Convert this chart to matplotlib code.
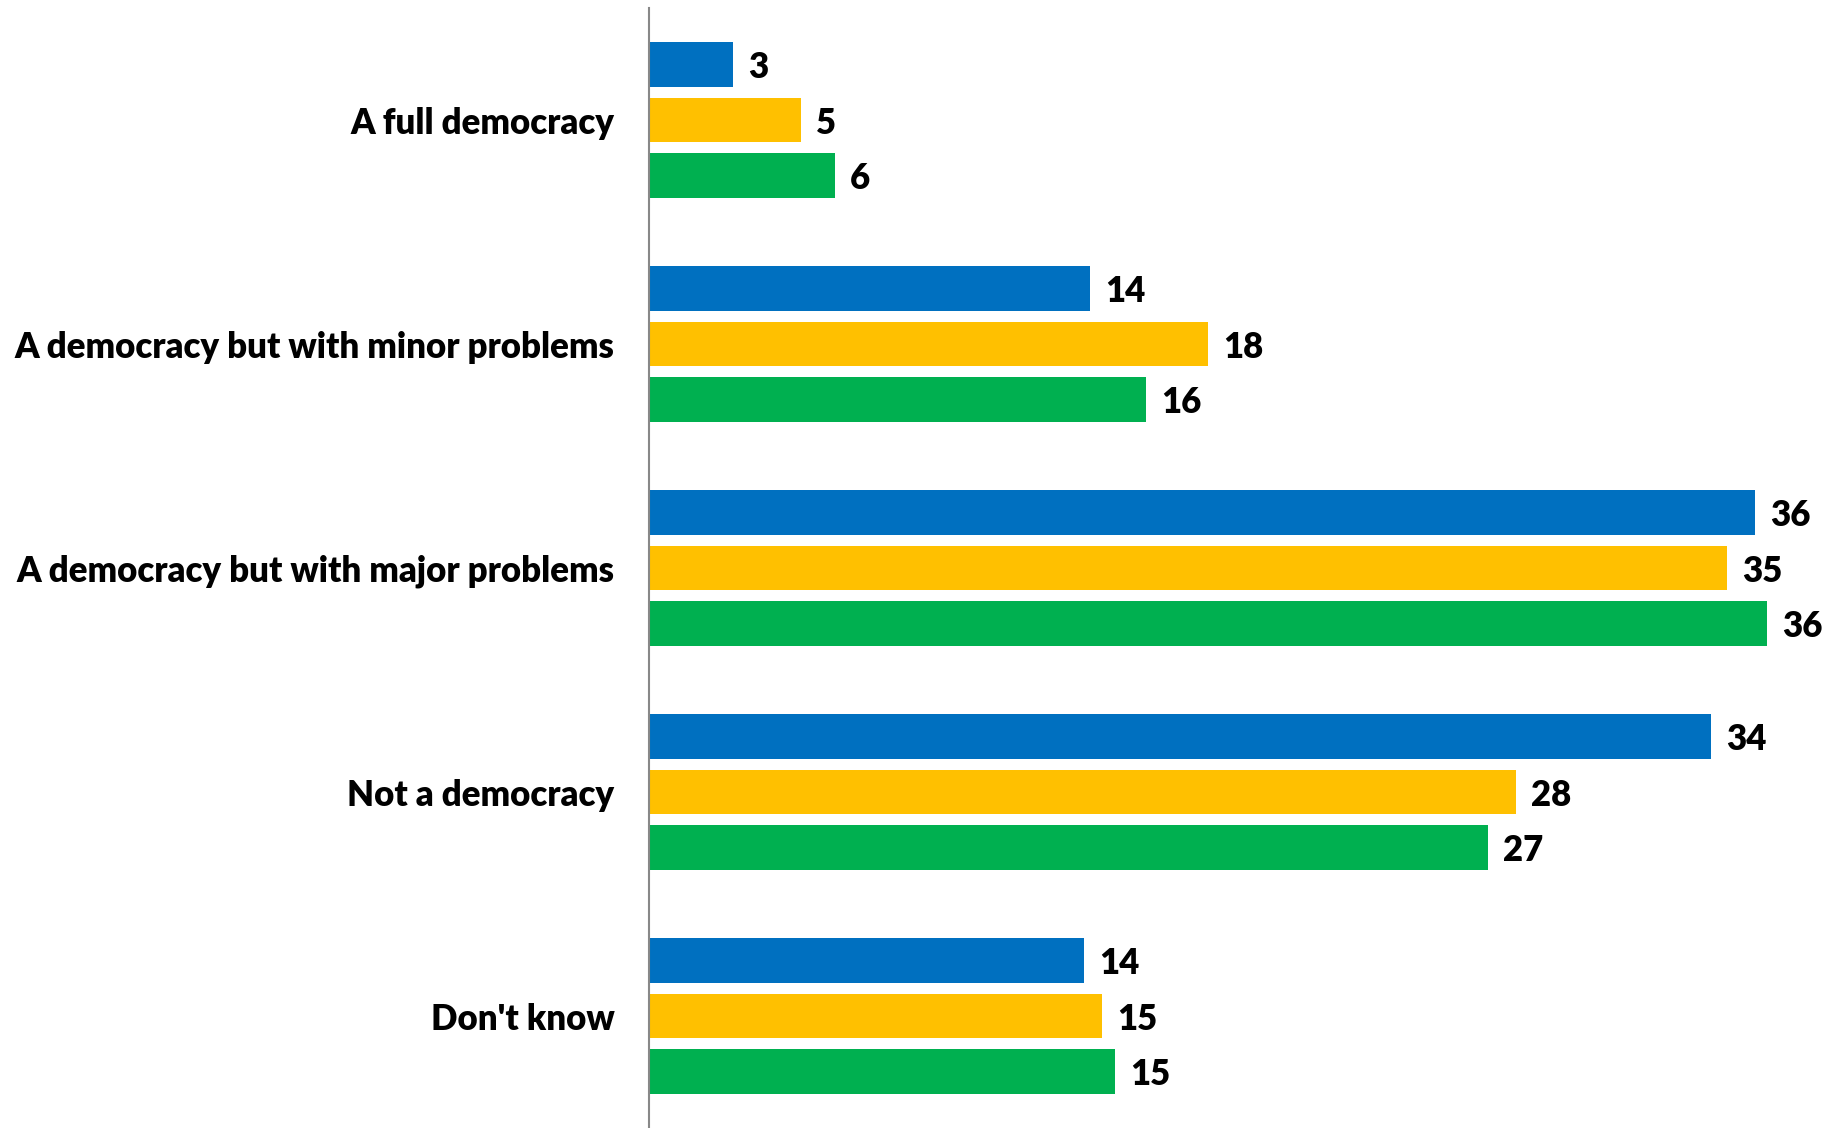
import matplotlib
matplotlib.use("Agg")
import matplotlib.pyplot as plt
import numpy as np

categories = ["A full democracy", "A democracy but with minor problems",
              "A democracy but with major problems", "Not a democracy", "Don't know"]
series_blue = [2.7, 14.2, 35.6, 34.2, 14.0]
series_yellow = [4.9, 18.0, 34.7, 27.9, 14.6]
series_green = [6.0, 16.0, 36.0, 27.0, 15.0]
series = [series_blue, series_yellow, series_green]
colors = ["#0070C0", "#FFC000", "#00B050"]

W, H = 1824, 1128
dpi = 100
fig = plt.figure(figsize=(W / dpi, H / dpi), dpi=dpi)
ax = fig.add_axes([649 / W, 0, 1 - 649 / W, 1120 / H])

font = "Lato"
fs = 25
pitch = 0.249
bar_h = 0.2
y = np.arange(len(categories))
for i, (vals, c) in enumerate(zip(series, colors)):
    pos = y + (i - 1) * pitch
    ax.barh(pos, vals, height=bar_h, color=c)
    for p, v in zip(pos, vals):
        ax.annotate(f"{round(v):d}", xy=(v, p), xytext=(15, 0), textcoords="offset pixels",
                    ha="left", va="center_baseline", fontsize=fs, fontweight="heavy",
                    family=font, color="black", annotation_clip=False)

ax.set_xlim(0, (W - 649) / 31.06)
ax.set_ylim(4.5, -0.5)
ax.set_yticks(y)
ax.set_yticklabels(categories, fontsize=fs, fontweight="heavy", family=font)
for t in ax.get_yticklabels():
    t.set_verticalalignment("center_baseline")
ax.tick_params(axis="y", length=0, pad=25)
ax.set_xticks([])
for s in ["top", "right", "bottom"]:
    ax.spines[s].set_visible(False)
ax.spines["left"].set_color("#888888")
ax.spines["left"].set_linewidth(1.5)

fig.savefig("out.png", dpi=dpi)
